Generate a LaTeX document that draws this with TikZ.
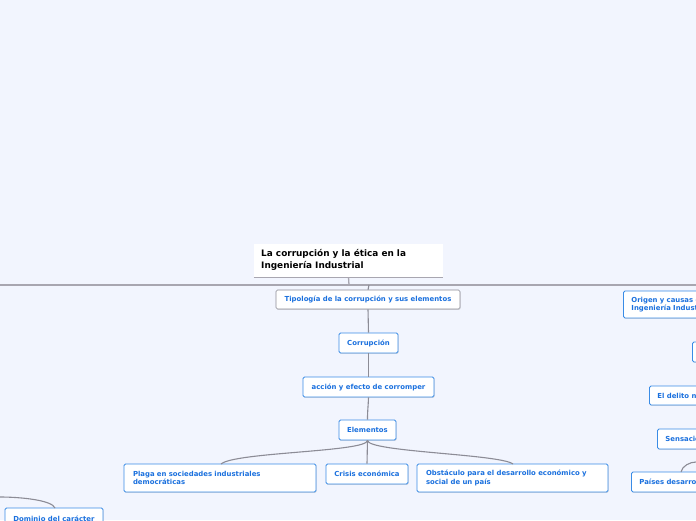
\documentclass[tikz,border=0pt]{standalone}
\usepackage{fontspec}
\setmainfont{DejaVu Sans}
\usetikzlibrary{shadows}
\definecolor{bgc}{RGB}{242,245,254}
\definecolor{txtblue}{RGB}{26,112,222}
\definecolor{bordblue}{RGB}{58,140,230}
\definecolor{linegray}{RGB}{140,140,150}
\definecolor{bargray}{RGB}{168,166,176}
\tikzset{
  box/.style={draw=bordblue, line width=0.9pt, fill=white, rounded corners=1.5pt,
    text=txtblue, font=\fontsize{6.9}{8.2}\selectfont\bfseries, inner sep=0pt,
    drop shadow={shadow xshift=0.6pt, shadow yshift=-0.9pt, opacity=0.25}},
  graybox/.style={box, draw=linegray, line width=0.6pt},
  lbox/.style={box, align=left, text width=#1, inner xsep=9pt},
  conn/.style={draw=linegray, line width=1.1pt},
}
\begin{document}
\begin{tikzpicture}[x=1pt,y=-1pt]
\useasboundingbox (0,0) rectangle (696,520);
\fill[bgc] (0,0) rectangle (696,520);
\clip (0,0) rectangle (696,520);

% root
\node[fill=white, minimum width=189pt, minimum height=33pt, inner sep=0pt] (root) at (348.5,260.5) {};
\node[anchor=north west, align=left, font=\fontsize{8.9}{12}\selectfont\bfseries, inner sep=0pt] (roottext) at (261,249) {La corrupción y la ética en la\\Ingeniería Industrial};
\draw[bargray, line width=1.3pt] (root.south west) -- (root.south east);

% main bar
\coordinate (barL) at (0,285);
\coordinate (barR) at (696,285);
\coordinate (barM) at (349,285);
\coordinate (barT) at (369,285);
\draw[bargray, line width=1.8pt] (barL) -- (barR);
\draw[bargray, line width=1.3pt] (root.south) -- (barM);

% center column
\node[graybox, minimum width=184pt, minimum height=19pt] (tip) at (368,299.5) {Tipología de la corrupción y sus elementos};
\node[box, minimum width=59pt, minimum height=20pt] (corr) at (368.5,343) {Corrupción};
\node[box, minimum width=131pt, minimum height=20pt] (acc) at (368.5,387) {acción y efecto de corromper};
\node[box, minimum width=57pt, minimum height=20pt] (elem) at (367.5,430) {Elementos};

\node[lbox=174pt, minimum height=28pt] (plaga) at (220,478) {Plaga en sociedades industriales\\democráticas};
\node[box, minimum width=82pt, minimum height=20pt] (crisis) at (367,474) {Crisis económica};
\node[lbox=173pt, minimum height=28pt] (obst) at (512.5,478) {Obstáculo para el desarrollo económico y\\social de un país};

\node[box, minimum width=98pt, minimum height=22pt] (dom) at (54,519) {Dominio del carácter};

% right column (cut off)
\node[lbox=180pt, minimum height=27pt, anchor=west, inner xsep=8pt] (orig) at (623,304.5) {Origen y causas de la corrupción en la\\Ingeniería Industrial};
\node[box, minimum width=60pt, minimum height=20pt, anchor=west] (n2) at (692,352) {};
\node[lbox=110pt, minimum height=19pt, anchor=west, inner xsep=8pt] (delito) at (649,395.5) {El delito n};
\node[lbox=110pt, minimum height=20pt, anchor=west, inner xsep=8pt] (sens) at (657,439) {Sensación};
\node[lbox=130pt, minimum height=20pt, anchor=west, inner xsep=8pt] (paises) at (631,482) {Países desarrollados};

\coordinate (domIn) at (0,497);
\coordinate (paisIn) at (696,462);

% connectors
\draw[conn] (barT) -- (tip.north);
\draw[conn] (tip.south) -- (corr.north);
\draw[conn] (corr.south) -- (acc.north);
\draw[conn] (acc.south) .. controls (368,410) and (367.5,410) .. (elem.north);
\draw[conn] (elem.south) .. controls (367,452) and (235,452) .. (221,464);
\draw[conn] (elem.south) -- (crisis.north);
\draw[conn] (elem.south) .. controls (368,452) and (500,454) .. (513,464);
\draw[conn] (domIn) .. controls (20,497) and (52,500) .. (55,508);
\draw[conn] (681,472) .. controls (682,466) and (690,462) .. (paisIn);
\end{tikzpicture}
\end{document}
